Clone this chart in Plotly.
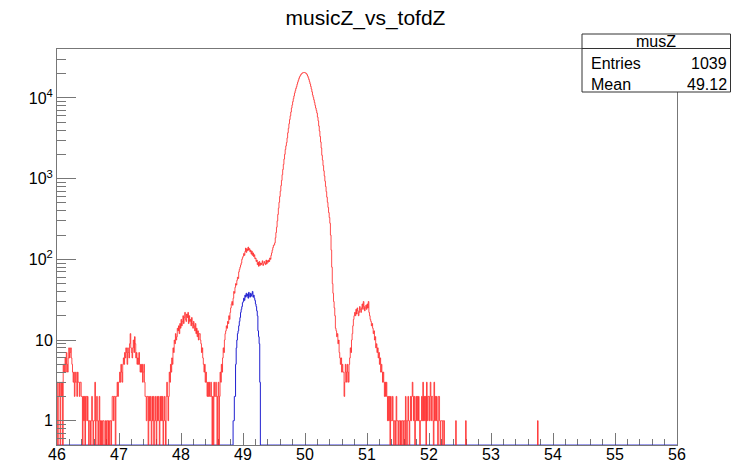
import math
import plotly.graph_objects as go

# ---------------- data ----------------
X_MIN, X_MAX, BIN_W = 46.0, 56.0, 0.01

# red histogram counts, bins of 0.01 starting at 46.00 (one row = 0.1 units)
red_start = 46.00
red_counts = [
    3, 0, 2, 3, 2, 0, 3, 2, 3, 0,            # 46.0
    5, 4, 5, 6, 4, 7, 5, 4, 6, 8,            # 46.1
    6, 7, 8, 6, 5, 4, 3, 4, 2, 3,            # 46.2
    4, 3, 2, 4, 3, 3, 2, 3, 3, 2,            # 46.3
    2, 0, 2, 1, 2, 0, 2, 2, 1, 2,            # 46.4
    1, 0, 1, 1, 0, 1, 2, 1, 0, 1,            # 46.5
    1, 3, 0, 1, 2, 1, 0, 1, 2, 0,            # 46.6
    1, 0, 1, 0, 1, 1, 0, 0, 1, 0,            # 46.7
    1, 1, 0, 1, 0, 1, 1, 0, 1, 2,            # 46.8
    2, 1, 2, 2, 0, 2, 2, 3, 2, 3,            # 46.9
    3, 4, 3, 5, 4, 3, 5, 6, 5, 7,            # 47.0
    6, 8, 7, 5, 8, 7, 6, 9, 12, 8,           # 47.1
    7, 6, 8, 10, 7, 11, 9, 6, 7, 5,          # 47.2
    6, 5, 7, 5, 4, 5, 4, 5, 3, 4,            # 47.3
    5, 3, 2, 2, 1, 2, 2, 0, 2, 1,            # 47.4
    2, 1, 0, 2, 1, 2, 0, 1, 2, 1,            # 47.5
    0, 2, 1, 2, 1, 0, 2, 1, 2, 1,            # 47.6
    2, 0, 1, 2, 1, 0, 2, 3, 2, 1,            # 47.7
    2, 4, 3, 5, 4, 6, 5, 8, 7, 10,           # 47.8
    9, 12, 10, 11, 14, 13, 15, 12, 16, 14,   # 47.9
    18, 15, 17, 20, 16, 19, 22, 18, 17, 21,  # 48.0
    19, 22, 16, 20, 17, 18, 15, 19, 16, 14,  # 48.1
    17, 15, 13, 16, 12, 14, 11, 13, 10, 12,  # 48.2
    12, 10, 9, 7, 8, 6, 5, 4, 5, 3,          # 48.3
    4, 3, 2, 3, 2, 3, 2, 2, 3, 2,            # 48.4
    0, 2, 0, 3, 2, 2, 3, 2, 0, 2,            # 48.5
    3, 0, 2, 4, 3, 5, 4, 6, 8, 7,            # 48.6
    10, 12, 13, 15, 14, 17, 16, 20, 18, 22,  # 48.7
    25, 28, 30, 27, 33, 40, 38, 45, 50, 48,  # 48.8
    55, 60, 58, 70, 75, 80, 85, 90, 100, 105,            # 48.9
    110, 118, 112, 125, 138, 122, 135, 128, 142, 130,    # 49.0
    136, 124, 130, 116, 126, 112, 120, 108, 114, 102,    # 49.1
    104, 94, 98, 86, 92, 82, 94, 84, 90, 86,             # 49.2
    90, 96, 84, 88, 94, 90, 86, 98, 88, 96,              # 49.3
    92, 98, 94, 104, 100, 112, 120, 130, 140, 150,       # 49.4
    150, 160, 185, 215, 250, 300, 360, 430, 510, 600,    # 49.5
    700, 820, 950, 1120, 1300, 1500, 1750, 2000, 2300, 2550,            # 49.6
    2800, 3200, 3700, 4200, 4800, 5400, 6000, 6700, 7500, 8200,         # 49.7
    9000, 9800, 10600, 11500, 12300, 13100, 13800, 14800, 15700, 16600,  # 49.8
    17500, 18300, 18900, 19500, 19900, 20300, 20500, 20600, 20700, 20650,  # 49.9
    20500, 20300, 20000, 19400, 18700, 17800, 16900, 15900, 14900, 13900,  # 50.0
    12900, 11900, 10900, 10200, 9500, 8800, 8100, 7500, 7000, 6500,     # 50.1
    5800, 5200, 4500, 3900, 3330, 2850, 2400, 1950, 1700, 1450,         # 50.2
    1250, 1080, 930, 800, 690, 590, 510, 440, 380, 330,                 # 50.3
    280, 200, 130, 80, 50, 38, 30, 25, 20, 14,                          # 50.4
    13, 11, 12, 9, 10, 7, 6, 5, 6, 4,        # 50.5
    5, 4, 4, 2, 3, 5, 4, 3, 5, 4,            # 50.6
    3, 5, 6, 8, 7, 10, 12, 15, 18, 20,       # 50.7
    22, 20, 24, 21, 25, 23, 20, 22, 26, 24,  # 50.8
    22, 25, 28, 24, 30, 26, 23, 25, 27, 24,  # 50.9
    28, 25, 30, 22, 20, 18, 17, 15, 16, 14,  # 51.0
    12, 13, 10, 11, 8, 9, 7, 8, 6, 7,        # 51.1
    5, 6, 4, 5, 4, 3, 4, 3, 2, 3,            # 51.2
    2, 3, 2, 1, 2, 1, 2, 0, 2, 1,            # 51.3
    1, 2, 1, 0, 1, 1, 0, 2, 1, 1,            # 51.4
    0, 1, 1, 0, 1, 0, 1, 1, 0, 1,            # 51.5
    1, 0, 2, 1, 0, 1, 2, 1, 0, 1,            # 51.6
    2, 1, 2, 3, 2, 1, 2, 0, 1, 2,            # 51.7
    1, 2, 1, 2, 1, 0, 1, 1, 2, 1,            # 51.8
    3, 1, 2, 1, 2, 0, 3, 1, 2, 2,            # 51.9
    1, 2, 3, 1, 2, 2, 1, 0, 3, 1,            # 52.0
    2, 1, 2, 1, 0, 2, 2, 1, 0, 1,            # 52.1
    1, 1, 0, 1, 1, 0, 0, 0, 0, 0,            # 52.2
    0, 0, 0, 0, 0, 0, 0, 0, 0, 0,            # 52.3
    0, 0, 0, 1, 0, 0, 0, 0, 0, 0,            # 52.4
    0, 0, 0, 0, 0, 0, 0, 0, 0, 1,            # 52.5
]
red_extra_bins = [53.75]
red_extra_counts = [1]

# blue histogram (musZ), bins of 0.01 starting at 48.84
blue_start = 48.84
blue_counts = [
    1, 1, 2, 2, 5, 8, 10, 12, 13, 15,
    17, 19, 22, 24, 26, 29,
    30, 33, 31, 36, 34, 38, 35, 37, 33, 39,
    36, 34, 38, 35, 37, 40, 34, 36, 33, 31,
    28, 26, 23, 20, 13, 11, 9, 3,
]

title_text = "musicZ_vs_tofdZ"
stats_name = "musZ"
stats_rows = [("Entries", "1039"), ("Mean", "49.12")]
x_tick_vals = [46, 47, 48, 49, 50, 51, 52, 53, 54, 55, 56]
x_tick_text = ["46", "47", "48", "49", "50", "51", "52", "53", "54", "55", "56"]
y_tick_vals = [1, 10, 100, 1000, 10000]
y_tick_text = ["1", "10", "10<sup>2</sup>", "10<sup>3</sup>", "10<sup>4</sup>"]

# ---------------- build full histograms ----------------
NB = int(round((X_MAX - X_MIN) / BIN_W))
red_full = [0] * NB
i0 = int(round((red_start - X_MIN) / BIN_W))
for k, v in enumerate(red_counts):
    red_full[i0 + k] = v
for b, v in zip(red_extra_bins, red_extra_counts):
    red_full[int(round((b - X_MIN) / BIN_W))] = v

blue_full = [0] * NB
j0 = int(round((blue_start - X_MIN) / BIN_W))
for k, v in enumerate(blue_counts):
    blue_full[j0 + k] = v

edges = [X_MIN + BIN_W * i for i in range(NB + 1)]

Y_LO = 0.5
Y_HI_LOG = 4.607


def step_xy(vals, zero_to):
    ys = [v if v > 0 else zero_to for v in vals]
    return edges, ys + [ys[-1]]


rx, ry = step_xy(red_full, 0.05)
bx, by = step_xy(blue_full, Y_LO)

fig = go.Figure()
fig.add_trace(go.Scatter(x=bx, y=by, mode="lines", line=dict(color="#2020d0", width=1, shape="hv", simplify=False),
                         hoverinfo="skip", showlegend=False))
fig.add_trace(go.Scatter(x=rx, y=ry, mode="lines", line=dict(color="#ff2020", width=0.8, shape="hv", simplify=False),
                         hoverinfo="skip", showlegend=False))

W, H = 731, 466
L, R, T, B = 57, 54, 49, 21
PW, PH = W - L - R, H - T - B


def px2x(px):
    return (px - L) / PW


def py2y(py):
    return (H - B - py) / PH


FONT = "Liberation Sans, Arial, Helvetica, sans-serif"
AXC = "#777777"

x_minor = [round(46 + 0.2 * k, 2) for k in range(51) if k % 5 != 0]
y_minor = []
for e in range(-1, 5):
    for m in range(2, 10):
        v = m * 10 ** e
        if 0.5 < v < 10 ** Y_HI_LOG:
            y_minor.append(v)

fig.update_layout(
    width=W, height=H,
    margin=dict(l=L, r=R, t=T, b=B, pad=0, autoexpand=False),
    paper_bgcolor="white", plot_bgcolor="white",
    font=dict(family=FONT, color="black", size=16),
    title=dict(text=title_text, x=0.5, xref="container", xanchor="center",
               y=1 - 18 / H, yref="container", yanchor="middle",
               font=dict(family=FONT, size=21, color="black")),
    xaxis=dict(range=[X_MIN, X_MAX], showgrid=False, zeroline=False, automargin=False,
               showline=True, linecolor=AXC, linewidth=1, mirror=True, layer="below traces",
               ticks="inside", ticklen=12, tickcolor=AXC, tickwidth=1,
               tickmode="array", tickvals=x_tick_vals, ticktext=x_tick_text,
               ticklabelstandoff=-5,
               tickfont=dict(size=16, family=FONT, color="black"),
               minor=dict(ticks="inside", ticklen=6, tickcolor=AXC, tickwidth=1,
                          tickmode="array", tickvals=x_minor, showgrid=False)),
    yaxis=dict(type="log", range=[math.log10(Y_LO), Y_HI_LOG], showgrid=False, zeroline=False,
               automargin=False,
               showline=True, linecolor=AXC, linewidth=1, mirror=True,
               ticks="inside", ticklen=19, tickcolor=AXC, tickwidth=1,
               tickmode="array", tickvals=y_tick_vals, ticktext=y_tick_text,
               tickfont=dict(size=16, family=FONT, color="black"),
               minor=dict(ticks="inside", ticklen=9, tickcolor=AXC, tickwidth=1,
                          tickmode="array", tickvals=y_minor, showgrid=False)),
)

# stats box
bx0, bx1, by0, by1, bsep = 582, 730.5, 34, 92, 48.5
fig.add_shape(type="rect", xref="paper", yref="paper",
              x0=px2x(bx0), x1=px2x(bx1), y0=py2y(by1), y1=py2y(by0),
              line=dict(color="#333333", width=1), fillcolor="white", layer="above")
fig.add_shape(type="line", xref="paper", yref="paper",
              x0=px2x(bx0), x1=px2x(bx1), y0=py2y(bsep), y1=py2y(bsep),
              line=dict(color="#333333", width=1), layer="above")
fig.add_annotation(text=stats_name, xref="paper", yref="paper", x=px2x((bx0 + bx1) / 2), y=py2y(41.5),
                   xanchor="center", yanchor="middle", showarrow=False,
                   font=dict(family=FONT, size=16, color="black"))
for r, (lab, val) in enumerate(stats_rows):
    yy = py2y(64 + 20.5 * r)
    fig.add_annotation(text=lab, xref="paper", yref="paper", x=px2x(589), y=yy,
                       xanchor="left", yanchor="middle", showarrow=False,
                       font=dict(family=FONT, size=16, color="black"))
    fig.add_annotation(text=val, xref="paper", yref="paper", x=px2x(729), y=yy,
                       xanchor="right", yanchor="middle", showarrow=False,
                       font=dict(family=FONT, size=16, color="black"))

fig.write_html("out.html")
